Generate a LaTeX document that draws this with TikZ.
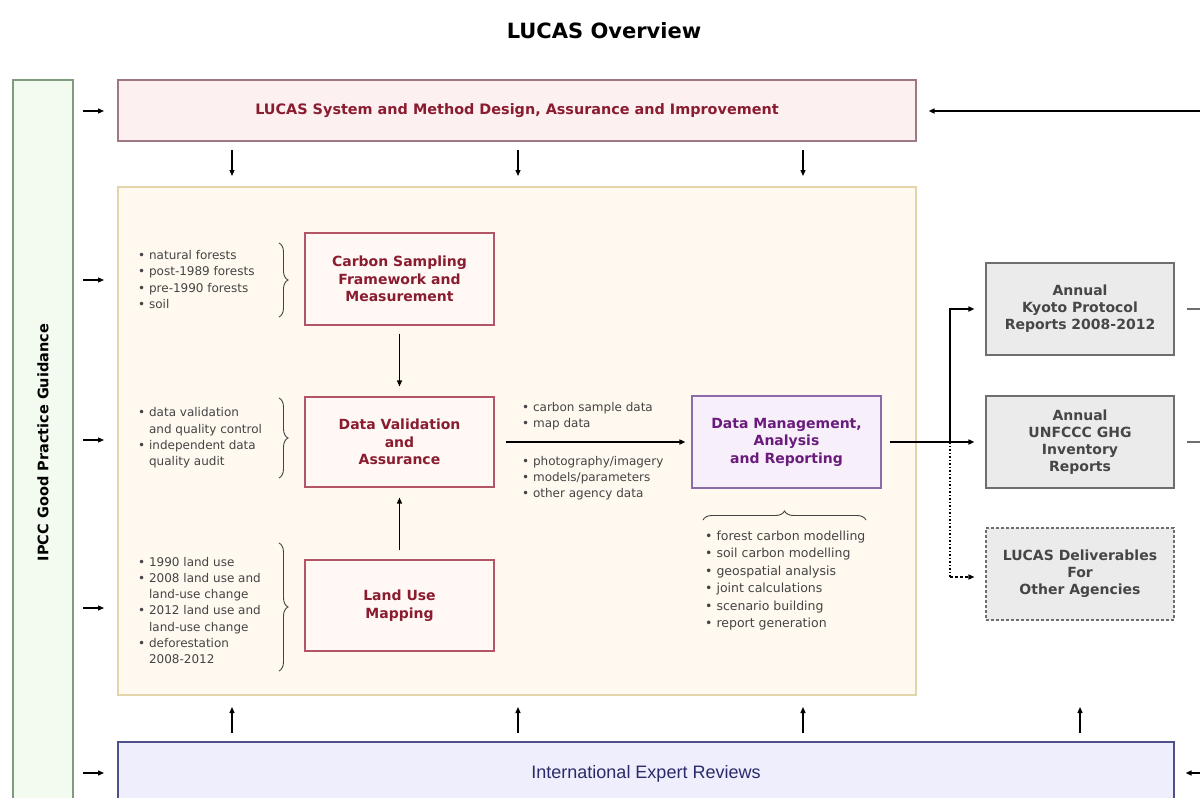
\documentclass[tikz,border=0pt]{standalone}
\usepackage{fontspec}
\setmainfont{DejaVu Sans}
\newfontfamily\narrowfont{Liberation Sans}
\usetikzlibrary{arrows.meta,decorations.pathreplacing,calc}
\definecolor{ipccfill}{HTML}{F3FAEF}
\definecolor{ipccdraw}{HTML}{7F9C7F}
\definecolor{topfill}{HTML}{FCF0F0}
\definecolor{topdraw}{HTML}{A07884}
\definecolor{redtext}{HTML}{8A1C30}
\definecolor{mainfill}{HTML}{FFF9EF}
\definecolor{maindraw}{HTML}{E2D5AA}
\definecolor{innerfill}{HTML}{FFF8F5}
\definecolor{innerdraw}{HTML}{B25566}
\definecolor{dmfill}{HTML}{F7EFFA}
\definecolor{dmdraw}{HTML}{8C6CA8}
\definecolor{dmtext}{HTML}{6A1C7C}
\definecolor{grayfill}{HTML}{EBEBEB}
\definecolor{graydraw}{HTML}{6E6E6E}
\definecolor{graytext}{HTML}{464646}
\definecolor{botfill}{HTML}{EEEEFC}
\definecolor{botdraw}{HTML}{50508A}
\definecolor{bottext}{HTML}{2A2A6A}
\definecolor{bullettext}{HTML}{444444}
\begin{document}
\begin{tikzpicture}[x=1pt,y=-1pt,
  >={Triangle[length=6pt,width=5pt]},
  arr/.style={->,line width=1.3pt,black},
  bigbox/.style={draw,line width=1.2pt,inner sep=0pt,align=center},
  innerbox/.style={draw=innerdraw,fill=innerfill,line width=1.1pt,minimum width=189pt,minimum height=92pt,
    align=center,inner sep=0pt,text=redtext,font=\fontsize{14}{17.5}\selectfont\bfseries},
  rightbox/.style={draw=graydraw,fill=grayfill,line width=1.1pt,minimum width=188pt,minimum height=92pt,
    align=center,inner sep=0pt,text=graytext,font=\fontsize{14}{17}\selectfont\bfseries},
  blist/.style={inner sep=0pt,align=left,text=bullettext,font=\fontsize{12}{16.3}\selectfont},
  bracestyle/.style={decorate,decoration={brace,amplitude=9pt},line width=0.9pt,draw=bullettext},
]
\useasboundingbox (0,0) rectangle (1200,798);
\fill[white] (0,0) rectangle (1200,798);

\node[font=\fontsize{21}{24}\selectfont\bfseries] (title) at (604,31) {LUCAS Overview};

% IPCC bar
\node[bigbox,draw=ipccdraw,fill=ipccfill,rotate=90,minimum width=725pt,minimum height=60pt,
  font=\fontsize{14.5}{16}\selectfont\bfseries] (ipcc) at (43,442.5) {IPCC Good Practice Guidance};

% top box
\node[bigbox,draw=topdraw,fill=topfill,minimum width=798pt,minimum height=61pt,text=redtext,
  font=\fontsize{14.4}{16}\selectfont\bfseries] (top) at (517,110.5) {LUCAS System and Method Design, Assurance and Improvement};

% main box
\node[bigbox,draw=maindraw,fill=mainfill,minimum width=798pt,minimum height=508pt] (main) at (517,441) {};

% bottom box
\node[bigbox,draw=botdraw,fill=botfill,minimum width=1056pt,minimum height=63pt,text=bottext,
  font=\narrowfont\fontsize{18}{20}\selectfont] (bottom) at (646,773.5) {International Expert Reviews};

% inner boxes
\node[innerbox] (carbon) at (399.5,279) {Carbon Sampling\\Framework and\\Measurement};
\node[innerbox,minimum height=90pt] (dv) at (399.5,442) {Data Validation\\and\\Assurance};
\node[innerbox,minimum height=91pt] (lum) at (399.5,605.5) {Land Use\\Mapping};
\node[innerbox,draw=dmdraw,fill=dmfill,text=dmtext] (dm) at (786.5,442) {Data Management,\\Analysis\\and Reporting};

% right boxes
\node[rightbox] (kyoto) at (1080,309) {Annual\\Kyoto Protocol\\Reports 2008-2012};
\node[rightbox] (unfccc) at (1080,442) {Annual\\UNFCCC GHG\\Inventory\\Reports};
\node[rightbox,dashed,dash pattern=on 3pt off 2pt] (deliv) at (1080,574) {LUCAS Deliverables\\For\\Other Agencies};

% bullet lists
\node[blist,anchor=west] (lc) at (138,279.5) {• natural forests\\• post-1989 forests\\• pre-1990 forests\\• soil};
\node[blist,anchor=west] (ld) at (138,438) {• data validation\\\hphantom{• }and quality control\\• independent data\\\hphantom{• }quality audit};
\node[blist,anchor=west] (ll) at (138,610.5) {• 1990 land use\\• 2008 land use and\\\hphantom{• }land-use change\\• 2012 land use and\\\hphantom{• }land-use change\\• deforestation\\\hphantom{• }2008-2012};
\node[blist,anchor=west] (ma) at (522,416) {• carbon sample data\\• map data};
\node[blist,anchor=west] (mb) at (522,478) {• photography/imagery\\• models/parameters\\• other agency data};
\node[blist,anchor=west,font=\fontsize{12.5}{17.4}\selectfont] (md) at (705,580.5) {• forest carbon modelling\\• soil carbon modelling\\• geospatial analysis\\• joint calculations\\• scenario building\\• report generation};

% braces
\draw[bracestyle] (279,243) -- (279,317);
\draw[bracestyle] (279,398) -- (279,478);
\draw[bracestyle] (279,543) -- (279,671);
\draw[bracestyle] (703,520) -- (866,520);

% vertical arrows in main
\draw[arr] (carbon.south) ++(0,8) -- ($(dv.north)+(0,-10)$);
\draw[arr] (lum.north) ++(0,-9) -- ($(dv.south)+(0,10)$);

% main flow
\draw[arr,line width=1.5pt] ($(dv.east)+(11,0)$) -- ($(dm.west)+(-6,0)$);
\coordinate (j) at (950,442);
\draw[arr,line width=1.5pt] ($(dm.east)+(8,0)$) -- ($(unfccc.west)+(-11,0)$);
\draw[arr,line width=1.5pt] (j) |- ($(kyoto.west)+(-11,0)$);
\draw[line width=1.5pt,dotted] (j) -- (950,577);
\draw[->,line width=1.3pt,dash pattern=on 3pt off 2pt] (950,577) -- ($(deliv.west)+(-11,3)$);

% right outgoing gray lines
\coordinate (ke) at (1200,309);
\coordinate (ue) at (1200,442);
\draw[line width=1.2pt,draw=graydraw] ($(kyoto.east)+(12,0)$) -- (ke);
\draw[line width=1.2pt,draw=graydraw] ($(unfccc.east)+(12,0)$) -- (ue);

% incoming to top from right
\coordinate (tr) at (1200,111);
\draw[arr,line width=1.5pt] (tr) -- ($(top.east)+(12,0.5)$);
\coordinate (br) at (1205,773);
\draw[arr] (br) -- ($(bottom.east)+(11,-0.5)$);

% left short arrows from IPCC
\foreach \yy in {111,280,440,608,773}{
  \draw[arr] (83,\yy) -- (104,\yy);
}

% down arrows from top to main
\foreach \xx in {232,518,803}{
  \draw[arr] (\xx,150) -- (\xx,176);
}
% up arrows from bottom
\foreach \xx in {232,518,803,1080}{
  \draw[arr] (\xx,733) -- (\xx,707);
}
\end{tikzpicture}
\end{document}
